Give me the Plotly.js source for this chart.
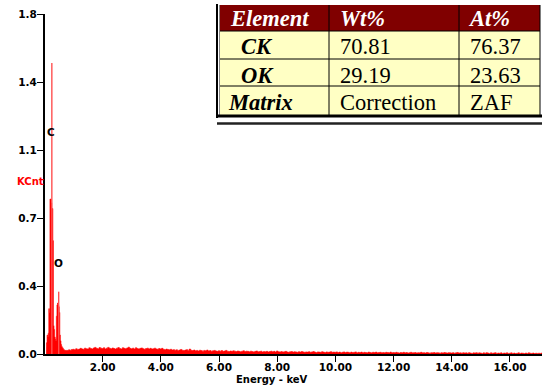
<!DOCTYPE html>
<html>
<head>
<meta charset="utf-8">
<script src="https://cdn.plot.ly/plotly-3.0.1.min.js"></script>
<style>
html,body{margin:0;padding:0;background:#fff;}
#chart{width:542px;height:388px;}
</style>
</head>
<body>
<div id="chart"></div>
<script>
// ---------- DATA ----------
// Peak region channels (keV) and counts (KCnt)
const peakEnergy = [0.06,0.08,0.10,0.12,0.14,0.16,0.18,0.20,0.22,0.24,0.26,0.28,0.30,0.32,0.34,0.36,0.38,0.40,0.42,0.44,0.46,0.48,0.50,0.52,0.54,0.56,0.58,0.60,0.62,0.64,0.66,0.68,0.70,0.72,0.74,0.76,0.78];
const peakCounts = [0.04,0.06,0.10,0.09,0.11,0.24,0.22,0.82,0.82,0.80,0.77,0.77,0.60,0.15,0.13,0.09,0.08,0.07,0.20,0.26,0.27,0.26,0.25,0.22,0.10,0.07,0.05,0.04,0.035,0.03,0.025,0.022,0.02,0.018,0.02,0.017,0.02];

// Narrow line tops (C K and O K)
const spikeEnergy = [0.255, 0.49];
const spikeCounts = [1.54, 0.33];

// Background channels: start 0.80 keV, width 0.05 keV
const bgStartKeV = 0.80;
const bgStepKeV = 0.05;
const bgCounts = [
  0.018,0.022,0.020,0.024,
  0.025,0.022,0.028,0.024,0.026,0.030,0.027,0.025,0.031,0.028,0.026,0.033,0.029,0.027,0.032,0.035,0.030,0.028,0.034,0.031,
  0.029,0.033,0.027,0.031,0.035,0.030,0.028,0.032,0.029,0.026,0.031,0.034,0.029,0.027,0.033,0.030,0.028,0.032,0.036,0.030,
  0.028,0.031,0.027,0.033,0.029,0.026,0.030,0.032,0.028,0.025,0.029,0.031,0.027,0.030,0.026,0.028,0.031,0.027,0.025,0.029,
  0.027,0.030,0.025,0.023,0.026,0.024,0.022,0.025,0.021,0.023,0.020,0.022,0.019,0.021,0.024,0.020,0.018,0.021,0.023,0.019,
  0.026,0.020,0.018,0.021,0.017,0.019,0.016,0.020,0.018,0.015,0.019,0.017,0.021,0.016,0.018,0.015,0.017,0.019,0.016,0.014,
  0.017,0.015,0.018,0.014,0.016,0.019,0.015,0.013,0.016,0.014,0.017,0.015,0.013,0.016,0.014,0.012,0.015,0.017,0.013,0.015,
  0.014,0.012,0.015,0.013,0.011,0.014,0.016,0.012,0.013,0.015,0.011,0.013,0.012,0.014,0.011,0.013,0.015,0.012,0.014,0.011,
  0.016,0.012,0.011,0.013,0.010,0.012,0.014,0.011,0.009,0.012,0.013,0.010,0.012,0.011,0.009,0.012,0.010,0.013,0.011,0.009,
  0.011,0.010,0.012,0.009,0.011,0.013,0.010,0.008,0.011,0.010,0.009,0.012,0.010,0.008,0.011,0.009,0.010,0.012,0.009,0.010,
  0.009,0.011,0.008,0.010,0.007,0.009,0.011,0.008,0.010,0.009,0.007,0.010,0.008,0.009,0.011,0.007,0.009,0.008,0.010,0.007,
  0.009,0.008,0.007,0.010,0.008,0.006,0.009,0.008,0.010,0.007,0.008,0.009,0.006,0.008,0.007,0.009,0.008,0.006,0.010,0.007,
  0.008,0.006,0.009,0.007,0.005,0.008,0.007,0.009,0.006,0.008,0.005,0.007,0.009,0.006,0.007,0.008,0.005,0.007,0.006,0.009,
  0.006,0.007,0.005,0.008,0.006,0.004,0.007,0.006,0.008,0.005,0.007,0.006,0.004,0.007,0.005,0.008,0.006,0.005,0.007,0.006,
  0.005,0.007,0.004,0.006,0.008,0.005,0.006,0.004,0.007,0.005,0.006,0.004,0.007,0.005,0.003,0.006,0.005,0.007,0.004,0.006,
  0.005,0.003,0.006,0.004,0.007,0.005,0.003,0.006,0.004,0.005,0.007,0.003,0.005,0.004,0.006,0.003,0.005,0.004,0.006,0.003,
  0.004,0.006,0.003,0.005,0.002,0.004,0.006,0.003,0.005,0.004,0.002,0.005,0.003,0.006,0.004,0.003,0.005,0.002,0.004,0.003,
  0.004,0.003,0.005
];

// Axis ticks
const xTickVals = [2,4,6,8,10,12,14,16];
const xTickText = ['2.00','4.00','6.00','8.00','10.00','12.00','14.00','16.00'];
const yTickVals = [0,0.36,0.72,1.08,1.44,1.8];
const yTickText = ['0.0','0.4','0.7','1.1','1.4','1.8'];

// Element peak labels
const peakLabels = ['C','O'];
const peakLabelE = [0.24, 0.50];
const peakLabelY = [1.175, 0.48];

// Quantification table
const tableHeader = ['Element','Wt%','At%'];
const tableElement = ['CK','OK','Matrix'];
const tableWt = ['70.81','29.19','Correction'];
const tableAt = ['76.37','23.63','ZAF'];

// ---------- BUILD ----------
const bgEnergy = bgCounts.map((_, i) => +(bgStartKeV + i * bgStepKeV).toFixed(3));
const allE = peakEnergy.concat(bgEnergy);
const allC = peakCounts.concat(bgCounts);

// spike segments (vertical lines from 0 to the counts)
const spikeX = [], spikeY = [];
spikeEnergy.forEach((e, i) => { spikeX.push(e, e, null); spikeY.push(0, spikeCounts[i], null); });

const M = {l: 45, r: 0, t: 14, b: 34};
const W = 542 - M.l - M.r, H = 388 - M.t - M.b;
const px = x => (x - M.l) / W;
const py = y => (388 - M.b - y) / H;

const traces = [
  {
    type: 'scatter', x: allE, y: allC, mode: 'lines',
    line: {shape: 'hvh', width: 0.6, color: '#ff0000'},
    fill: 'tozeroy', fillcolor: '#ff0000', hoverinfo: 'skip'
  },
  {
    type: 'scatter', x: spikeX, y: spikeY, mode: 'lines', connectgaps: false,
    line: {width: 1.4, color: '#ff5050'}, hoverinfo: 'skip'
  }
];

const tickFont = {family: 'DejaVu Sans', size: 10.5, color: '#000', weight: 'bold'};
const serif = 'Liberation Serif';
const tSize = 22.5;

const annotations = [];
// peak labels
peakLabels.forEach((t, i) => annotations.push({
  x: peakLabelE[i], y: peakLabelY[i], xref: 'x', yref: 'y', text: t, showarrow: false,
  xanchor: 'center', yanchor: 'middle',
  font: {family: 'DejaVu Sans', size: 10.5, color: '#000', weight: 'bold'}
}));
// y label
annotations.push({x: px(30), y: py(181), xref: 'paper', yref: 'paper', text: 'KCnt', showarrow: false,
  xanchor: 'center', yanchor: 'middle',
  font: {family: 'DejaVu Sans', size: 10, color: '#ff0000', weight: 'bold'}});
// x title
annotations.push({x: px(272), y: py(379), xref: 'paper', yref: 'paper', text: 'Energy - keV', showarrow: false,
  xanchor: 'center', yanchor: 'middle',
  font: {family: 'DejaVu Sans', size: 10, color: '#000', weight: 'bold'}});

// table text
const colX = [228, 338, 466];
const rowY = [18.5, 47, 75, 102.5];
tableHeader.forEach((t, j) => annotations.push({
  x: px(colX[j]), y: py(rowY[0]), xref: 'paper', yref: 'paper', xanchor: 'left', yanchor: 'middle',
  text: t, showarrow: false, font: {family: serif, size: tSize, color: '#fff', weight: 'bold', style: 'italic'}
}));
const elemX = [239, 239, 226];
tableElement.forEach((t, i) => {
  annotations.push({x: px(elemX[i]), y: py(rowY[i+1]), xref: 'paper', yref: 'paper', xanchor: 'left', yanchor: 'middle',
    text: t, showarrow: false, font: {family: serif, size: tSize, color: '#000', weight: 'bold', style: 'italic'}});
  annotations.push({x: px(colX[1]), y: py(rowY[i+1]), xref: 'paper', yref: 'paper', xanchor: 'left', yanchor: 'middle',
    text: tableWt[i], showarrow: false, font: {family: serif, size: tSize, color: '#000'}});
  annotations.push({x: px(colX[2] + 2), y: py(rowY[i+1]), xref: 'paper', yref: 'paper', xanchor: 'left', yanchor: 'middle',
    text: tableAt[i], showarrow: false, font: {family: serif, size: tSize, color: '#000'}});
});

const rect = (x0, y0, x1, y1, fill) => ({type: 'rect', xref: 'paper', yref: 'paper',
  x0: px(x0), x1: px(x1), y0: py(y1), y1: py(y0), fillcolor: fill, line: {width: 0}, layer: 'above'});
const seg = (x0, y0, x1, y1, color, w) => ({type: 'line', xref: 'paper', yref: 'paper',
  x0: px(x0), x1: px(x1), y0: py(y0), y1: py(y1), line: {color: color, width: w}, layer: 'above'});

const shapes = [
  rect(219, 5, 540, 31, '#800000'),
  rect(219, 31, 540, 115, '#ffffc4'),
  seg(219, 31, 540, 31, '#000', 1),
  seg(219, 59, 540, 59, '#000', 1),
  seg(219, 86, 540, 86, '#000', 1),
  seg(329, 5, 329, 115, '#000', 1),
  seg(459, 5, 459, 115, '#000', 1),
  seg(540, 5, 540, 115, '#000', 1),
  seg(217, 4, 217, 118, '#000', 2),
  seg(219.5, 5, 219.5, 115, '#888', 1),
  seg(217, 116, 542, 116, '#000', 3),
  seg(217, 123.5, 542, 123.5, '#222', 2.5)
];

const layout = {
  width: 542, height: 388,
  margin: M,
  paper_bgcolor: '#fff', plot_bgcolor: '#fff',
  showlegend: false,
  xaxis: {
    range: [0.02, 17.1], tickvals: xTickVals, ticktext: xTickText,
    showline: true, linecolor: '#000', linewidth: 2, ticks: 'outside', ticklen: 6, tickwidth: 1, tickcolor: '#000',
    ticklabelstandoff: -4,
    showgrid: false, zeroline: false, tickfont: tickFont, fixedrange: true
  },
  yaxis: {
    range: [0, 1.8], tickvals: yTickVals, ticktext: yTickText,
    showline: true, linecolor: '#000', linewidth: 2, ticks: 'outside', ticklen: 6, tickwidth: 1, tickcolor: '#000',
    ticklabelstandoff: -2,
    showgrid: false, zeroline: false, tickfont: tickFont, fixedrange: true
  },
  annotations: annotations,
  shapes: shapes
};

Plotly.newPlot('chart', traces, layout, {displayModeBar: false, staticPlot: true});
</script>
</body>
</html>
